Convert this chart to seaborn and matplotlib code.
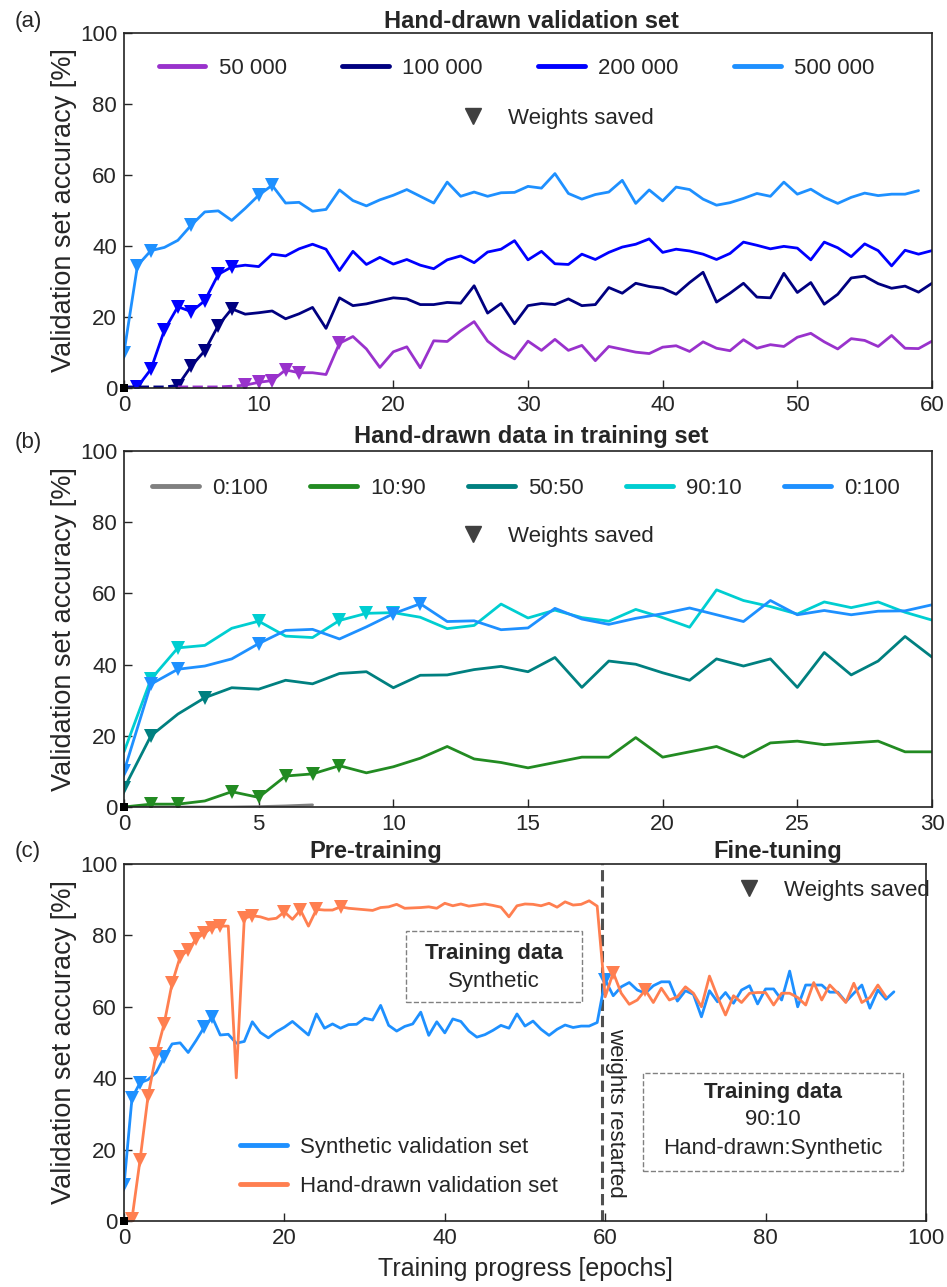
import numpy as np
import pandas as pd
import matplotlib
matplotlib.use('Agg')
import matplotlib.pyplot as plt
from matplotlib.lines import Line2D
from matplotlib.patches import Rectangle
import matplotlib.transforms as mtransforms
import seaborn as sns

sns.set_style('ticks')
plt.rcParams['font.family'] = ['Liberation Sans', 'DejaVu Sans']

# ---------------- data ----------------
# synthetic-data run (500 000 images), epochs 0..59
synth = [10.0, 34.5, 38.7, 39.6, 41.6, 45.9, 49.6, 49.9, 47.2, 50.6,
         54.3, 57.1, 52.1, 52.3, 49.8, 50.3, 55.8, 52.8, 51.3, 53.0,
         54.3, 55.9, 54.0, 52.1, 58.0, 54.0, 55.2, 54.0, 55.0, 55.1,
         56.8, 56.3, 60.4, 54.8, 53.2, 54.5, 55.2, 58.5, 52.0, 55.8,
         52.7, 56.6, 55.9, 53.2, 51.5, 52.2, 53.4, 54.8, 54.0, 58.0,
         54.6, 56.0, 53.7, 52.0, 53.7, 54.9, 54.2, 54.6, 54.6, 55.6]
synth_marks = [0, 1, 2, 5, 10, 11]

# (a) hand-drawn validation set, by training set size
n50k_dash = [0.3, 0.3, 0.3, 0.3, 0.5, 0.8]           # epochs 4..9
n50k = [0.8, 1.6, 2.1, 5.1, 4.3, 4.3, 3.8, 12.6, 14.5, 11.0,
        5.8, 10.2, 11.6, 5.7, 13.3, 13.1, 16.1, 18.7, 13.2, 10.3,
        8.2, 13.2, 10.6, 13.7, 10.6, 12.0, 7.7, 11.7, 10.9, 10.1,
        9.7, 11.5, 11.9, 10.3, 13.0, 11.2, 10.5, 13.6, 11.2, 12.2,
        11.7, 14.3, 15.4, 13.0, 11.0, 13.9, 13.4, 11.7, 14.8, 11.2,
        11.1, 13.2]                                   # epochs 9..60
n50k_marks = [0, 1, 2, 3, 4, 7]
n100k_dash = [0.3, 0.3, 0.3, 0.3, 0.7]               # epochs 0..4
n100k = [0.7, 6.2, 10.5, 17.6, 22.3, 20.8, 21.2, 21.7, 19.5, 20.9,
         22.7, 16.8, 25.4, 23.2, 23.7, 24.6, 25.4, 25.1, 23.5, 23.5,
         24.1, 23.9, 28.8, 21.1, 23.8, 18.1, 23.2, 23.8, 23.5, 25.1,
         23.2, 23.5, 28.3, 26.7, 29.5, 28.6, 28.1, 26.4, 29.7, 32.6,
         24.2, 26.7, 29.5, 25.6, 25.4, 32.3, 26.9, 29.7, 23.6, 26.4,
         31.0, 31.5, 29.4, 28.1, 28.7, 27.0, 29.5]    # epochs 4..60
n100k_marks = [0, 1, 2, 3, 4]
n200k = [0.0, 0.3, 5.3, 16.3, 22.9, 21.5, 24.6, 32.0, 34.1, 34.6,
         34.2, 37.7, 37.2, 39.2, 40.5, 39.1, 33.1, 38.5, 34.8, 36.8,
         34.9, 36.2, 34.6, 33.6, 36.1, 37.2, 35.3, 38.3, 39.1, 41.5,
         36.1, 38.5, 35.0, 34.8, 37.7, 36.2, 38.2, 39.7, 40.5, 42.0,
         38.2, 39.1, 38.6, 37.7, 36.2, 37.9, 41.1, 40.2, 39.2, 39.9,
         39.4, 36.1, 41.1, 39.5, 37.0, 40.6, 38.7, 34.4, 38.8, 37.7,
         38.7]                                        # epochs 0..60
n200k_marks = [1, 2, 3, 4, 5, 6, 7, 8]

# (b) ratio hand-drawn : synthetic in training set, epochs 0..30
r0_100_grey = [0.0, 0.0, 0.0, 0.0, 0.0, 0.1, 0.3, 0.6]
r10_90 = [0.0, 0.8, 0.8, 1.7, 4.3, 2.7, 8.7, 9.3, 11.6, 9.6,
          11.3, 13.7, 17.0, 13.5, 12.5, 11.0, 12.5, 14.0, 14.0, 19.5,
          14.0, 15.5, 17.0, 14.0, 18.0, 18.5, 17.5, 18.0, 18.5, 15.5,
          15.5]
r10_90_marks = [1, 2, 4, 5, 6, 7, 8]
r50_50 = [5.2, 20.0, 26.1, 30.7, 33.5, 33.1, 35.6, 34.6, 37.5, 38.0,
          33.5, 37.0, 37.1, 38.6, 39.5, 38.0, 42.0, 33.6, 41.0, 40.1,
          37.7, 35.6, 41.6, 39.6, 41.6, 33.6, 43.4, 37.1, 41.0, 47.9,
          42.1]
r50_50_marks = [0, 1, 3]
r90_10 = [15.5, 35.9, 44.7, 45.4, 50.2, 52.2, 48.0, 47.6, 52.4, 54.4,
          54.6, 53.3, 50.1, 51.0, 57.0, 53.1, 55.3, 53.2, 52.2, 55.5,
          53.2, 50.5, 61.0, 58.0, 56.3, 54.2, 57.6, 56.0, 57.6, 54.7,
          52.5]
r90_10_marks = [1, 2, 5, 8, 9, 10]

# (c) pre-training (synthetic) then fine-tuning (90:10)
synth_ft = [67.5, 63.1, 65.6, 66.8, 64.7, 63.8, 65.9, 67.0, 67.0, 61.6,
            64.5, 63.5, 57.2, 64.5, 61.4, 64.0, 61.0, 64.7, 65.9, 60.8,
            65.0, 65.0, 61.9, 70.0, 60.0, 66.1, 66.1, 66.1, 64.1, 64.1,
            61.4, 63.8, 66.1, 59.6, 64.7, 62.1, 64.2]  # epochs 60..96
hand = [0.0, 0.7, 17.1, 35.0, 46.7, 55.2, 66.6, 74.0, 75.9, 79.0,
        80.6, 82.2, 82.6, 82.6, 40.1, 84.8, 85.5, 85.2, 84.5, 84.8,
        86.6, 84.5, 87.1, 82.6, 87.3, 87.1, 87.1, 88.0, 87.6, 87.4,
        87.2, 87.0, 87.8, 88.0, 88.7, 87.6, 87.7, 87.8, 88.0, 87.6,
        89.0, 88.3, 88.8, 88.2, 88.5, 88.8, 88.4, 87.9, 85.2, 88.3,
        88.8, 88.7, 88.3, 89.0, 87.9, 89.4, 88.5, 88.7, 89.7, 88.2,
        62.8, 69.6, 63.8, 60.7, 61.9, 64.7, 61.2, 65.2, 61.9, 62.8,
        65.6, 63.8, 60.0, 68.6, 62.8, 57.7, 63.1, 61.2, 63.8, 64.0,
        64.0, 60.5, 63.8, 63.8, 62.6, 60.5, 66.8, 61.9, 66.1, 63.8,
        61.2, 66.6, 61.2, 62.6, 66.1, 62.8]           # epochs 0..95
hand_marks = [1, 2, 3, 4, 5, 6, 7, 8, 9, 10, 11, 12, 15, 16, 20, 22, 24, 27, 61, 65]
restart_epoch = 59.6

# colours
c_50k, c_100k, c_200k, c_500k = '#9932CC', '#000080', '#0000FF', '#1E90FF'
c_grey, c_green, c_teal, c_cyan = '#808080', '#228B22', '#008080', '#00CED1'
c_hand = '#FF7F50'
c_saved = '#404040'

# ---------------- helpers ----------------
def series(ax, y, start=0, color='k', marks=None, ls='-'):
    x = np.arange(len(y)) + start
    df = pd.DataFrame({'x': x, 'y': y})
    kw = dict(color=color, lw=2, ls=ls, errorbar=None, ax=ax)
    if marks:
        kw.update(marker='v', markevery=marks, ms=10, mec=color, mfc=color, mew=0)
    sns.lineplot(data=df, x='x', y='y', **kw)


def style_axis(ax, xmax, xstep):
    ax.set_xlim(0, xmax)
    ax.set_ylim(0, 100)
    ax.set_xticks(np.arange(0, xmax + 1, xstep))
    ax.set_yticks(np.arange(0, 101, 20))
    ax.tick_params(direction='in', length=6, width=1, labelsize=16, pad=5,
                   top=False, right=False)
    for s in ax.spines.values():
        s.set_visible(True)
        s.set_linewidth(1.2)
        s.set_color('#222222')
    ax.set_xlabel('')
    ax.set_ylabel('Validation set accuracy [%]', fontsize=19.5)
    # origin marker
    sns.scatterplot(x=[0], y=[0], ax=ax, color='k', marker='s', s=30,
                    linewidth=0, clip_on=False, zorder=5)


def saved_legend(ax, x, y):
    h = [Line2D([], [], color=c_saved, marker='v', ls='', ms=12)]
    leg = ax.legend(h, ['Weights saved'], loc='center', bbox_to_anchor=(x, y),
                    frameon=False, fontsize=16, handletextpad=0.6)
    return leg


W, H = 947, 1287
fig = plt.figure(figsize=(W / 100, H / 100), dpi=100)


def rect(l, r, t, b):
    return [l / W, 1 - b / H, (r - l) / W, (b - t) / H]


ax_a = fig.add_axes(rect(124, 932, 33, 388))
ax_b = fig.add_axes(rect(124, 932, 451, 807))
ax_c = fig.add_axes(rect(124, 926, 864, 1221))

# ---------------- (a) ----------------
series(ax_a, synth, 0, c_500k, synth_marks)
series(ax_a, n200k, 0, c_200k, n200k_marks)
series(ax_a, n100k_dash, 0, c_100k, ls='--')
series(ax_a, n100k, 4, c_100k, n100k_marks)
series(ax_a, n50k_dash, 4, c_50k, ls='--')
series(ax_a, n50k, 9, c_50k, n50k_marks)
style_axis(ax_a, 60, 10)
ax_a.text(0.504, 1.032, 'Hand-drawn validation set', transform=ax_a.transAxes,
          ha='center', va='center', fontsize=17, fontweight='bold')
h = [Line2D([], [], color=c, lw=3.5) for c in (c_50k, c_100k, c_200k, c_500k)]
leg = ax_a.legend(h, ['50 000', '100 000', '200 000', '500 000'], ncol=4,
                  loc='center', bbox_to_anchor=(0.486, 0.90), frameon=False,
                  fontsize=16, handlelength=2.1, columnspacing=2.5,
                  handletextpad=0.6)
ax_a.add_artist(leg)
saved_legend(ax_a, 0.53, 0.76)

# ---------------- (b) ----------------
series(ax_b, r0_100_grey, 0, c_grey)
series(ax_b, r10_90, 0, c_green, r10_90_marks)
series(ax_b, r50_50, 0, c_teal, r50_50_marks)
series(ax_b, r90_10, 0, c_cyan, r90_10_marks)
series(ax_b, synth[:31], 0, c_500k, synth_marks)
style_axis(ax_b, 30, 5)
ax_b.text(0.504, 1.04, 'Hand-drawn data in training set', transform=ax_b.transAxes,
          ha='center', va='center', fontsize=17, fontweight='bold')
h = [Line2D([], [], color=c, lw=3.5) for c in (c_grey, c_green, c_teal, c_cyan, c_500k)]
leg = ax_b.legend(h, ['0:100', '10:90', '50:50', '90:10', '0:100'], ncol=5,
                  loc='center', bbox_to_anchor=(0.4975, 0.895), frameon=False,
                  fontsize=16, handlelength=2.1, columnspacing=1.9,
                  handletextpad=0.6)
ax_b.add_artist(leg)
saved_legend(ax_b, 0.53, 0.76)

# ---------------- (c) ----------------
series(ax_c, synth + synth_ft, 0, c_500k, synth_marks + [60])
series(ax_c, hand, 0, c_hand, hand_marks)
style_axis(ax_c, 100, 20)
ax_c.set_xlabel('Training progress [epochs]', fontsize=18, labelpad=6)
ax_c.axvline(restart_epoch, color='#505050', ls='--', lw=2.2, zorder=1)
ax_c.text(61.3, 30.4, 'weights restarted', rotation=270, ha='center', va='center',
          fontsize=16)
tr = mtransforms.blended_transform_factory(ax_c.transData, ax_c.transAxes)
ax_c.text(31.4, 1.034, 'Pre-training', transform=tr, ha='center', va='center',
          fontsize=17, fontweight='bold')
ax_c.text(81.5, 1.034, 'Fine-tuning', transform=tr, ha='center', va='center',
          fontsize=17, fontweight='bold')

# dashed info boxes
ax_c.add_patch(Rectangle((35.2, 61.3), 21.9, 19.9, fill=False, ls='--',
                         lw=1, ec='#808080', zorder=3))
ax_c.text(46.1, 75.0, 'Training data', ha='center', va='center', fontsize=16,
          fontweight='bold')
ax_c.text(46.1, 67.2, 'Synthetic', ha='center', va='center', fontsize=16)
ax_c.add_patch(Rectangle((64.7, 14.0), 32.4, 27.5, fill=False, ls='--',
                         lw=1, ec='#808080', zorder=3))
ax_c.text(80.9, 35.9, 'Training data', ha='center', va='center', fontsize=16,
          fontweight='bold')
ax_c.text(80.9, 28.3, '90:10', ha='center', va='center', fontsize=16)
ax_c.text(80.9, 20.4, 'Hand-drawn:Synthetic', ha='center', va='center', fontsize=16)

h = [Line2D([], [], color=c, lw=3.5) for c in (c_500k, c_hand)]
leg = ax_c.legend(h, ['Synthetic validation set', 'Hand-drawn validation set'],
                  loc='center left', bbox_to_anchor=(0.12, 0.152), frameon=False,
                  fontsize=16, handlelength=2.1, handletextpad=0.6,
                  labelspacing=0.8)
ax_c.add_artist(leg)
saved_legend(ax_c, 0.878, 0.927)

# align y labels and panel letters
for ax, lab, ypix in ((ax_a, '(a)', 22), (ax_b, '(b)', 443), (ax_c, '(c)', 852)):
    ax.yaxis.set_label_coords(-0.058, 0.5)
    fig.text(28 / W, 1 - ypix / H, lab, ha='center', va='center', fontsize=16)

fig.savefig('out.png', dpi=100)
